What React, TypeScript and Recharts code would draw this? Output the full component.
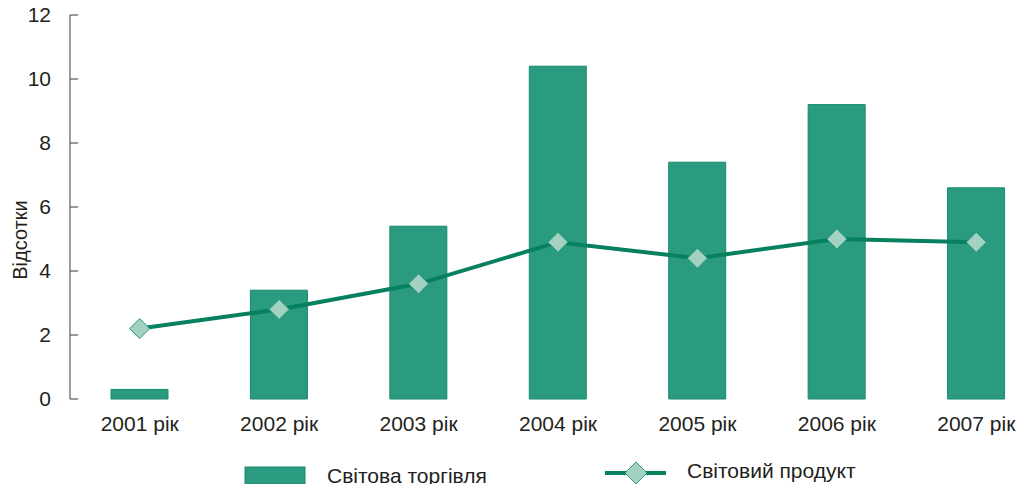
import { Bar, ComposedChart, Legend, Line, XAxis, YAxis } from 'recharts'

const years = ['2001 рік', '2002 рік', '2003 рік', '2004 рік', '2005 рік', '2006 рік', '2007 рік']
const worldTrade = [0.3, 3.4, 5.4, 10.4, 7.4, 9.2, 6.6]
const worldProduct = [2.2, 2.8, 3.6, 4.9, 4.4, 5.0, 4.9]
const yTicks = [0, 2, 4, 6, 8, 10, 12]
const bandEdges = [0, 1, 2, 3, 4, 5, 6, 7]

const data = years.map((year, i) => ({
  year,
  trade: worldTrade[i],
  product: worldProduct[i],
}))

const FONT = '"Liberation Sans", Arial, sans-serif'
const TEXT = '#231f20'
const AXIS = '#3a3a3a'
const BAR_FILL = '#2b9b80'
const BAR_EDGE = '#178a6e'
const LINE = '#06805f'
const DIAMOND_FILL = '#a3d2c2'
const DIAMOND_EDGE = '#2a9a7e'

function diamondPath(cx: number, cy: number, r: number) {
  return `M${cx},${cy - r}L${cx + r},${cy}L${cx},${cy + r}L${cx - r},${cy}Z`
}

function Diamond(props: any) {
  const { cx, cy, index } = props
  if (cx == null || cy == null) return <g key={index} />
  return (
    <path
      key={index}
      d={diamondPath(cx, cy, 10)}
      fill={DIAMOND_FILL}
      stroke={DIAMOND_EDGE}
      strokeWidth={1}
    />
  )
}

function ChartLegend({ payload }: any) {
  const items = payload || []
  const trade = items.find((p: any) => p.dataKey === 'trade')
  const product = items.find((p: any) => p.dataKey === 'product')
  return (
    <svg width={1036} height={30} style={{ display: 'block', fontFamily: FONT }}>
      {trade && (
        <g>
          <rect x={245} y={13} width={60} height={17} fill={BAR_FILL} stroke={BAR_EDGE} />
          <text x={327} y={28.5} fontSize={21} fill={TEXT}>
            {trade.value}
          </text>
        </g>
      )}
      {product && (
        <g>
          <line x1={605} x2={666} y1={19} y2={19} stroke={LINE} strokeWidth={4} />
          <path d={diamondPath(636, 19, 11)} fill={DIAMOND_FILL} stroke={DIAMOND_EDGE} />
          <text x={687} y={24} fontSize={21} fill={TEXT}>
            {product.value}
          </text>
        </g>
      )}
    </svg>
  )
}

function YTitle() {
  return (
    <text
      x={27}
      y={240}
      transform="rotate(-90, 27, 240)"
      textAnchor="middle"
      fontSize={20}
      fill={TEXT}
      fontFamily={FONT}
    >
      Відсотки
    </text>
  )
}

export default function App() {
  return (
    <div
      style={{
        width: 1036,
        height: 484,
        overflow: 'hidden',
        margin: '-8px 0 0 -8px',
        background: '#fff',
        fontFamily: FONT,
      }}
    >
      <ComposedChart
        width={1050}
        height={484}
        data={data}
        margin={{ top: 15, right: 4, bottom: 0, left: 0 }}
      >
        <XAxis
          xAxisId="edge"
          type="number"
          domain={[0, 7]}
          ticks={bandEdges}
          tick={false}
          height={0}
          tickSize={9}
          stroke={AXIS}
          allowDataOverflow
        />
        <XAxis
          xAxisId="cat"
          dataKey="year"
          axisLine={false}
          tickLine={false}
          height={85}
          tickSize={6}
          tickMargin={11}
          interval={0}
          tick={{ fontSize: 21, fill: TEXT, fontFamily: FONT }}
        />
        <YAxis
          width={70}
          domain={[0, 12]}
          ticks={yTicks}
          interval={0}
          tickSize={-8}
          tickMargin={27}
          stroke={AXIS}
          tick={{ fontSize: 21, fill: TEXT, fontFamily: FONT }}
          label={<YTitle />}
        />
        <Legend
          layout="horizontal"
          verticalAlign="middle"
          align="center"
          wrapperStyle={{ top: 454, left: 0, width: 1036, height: 30 }}
          content={<ChartLegend />}
        />
        <Bar
          xAxisId="cat"
          dataKey="trade"
          name="Світова торгівля"
          fill={BAR_FILL}
          stroke={BAR_EDGE}
          strokeWidth={1}
          barSize={57}
          isAnimationActive={false}
        />
        <Line
          xAxisId="cat"
          dataKey="product"
          name="Світовий продукт"
          stroke={LINE}
          strokeWidth={4}
          dot={Diamond}
          activeDot={false}
          isAnimationActive={false}
        />
      </ComposedChart>
    </div>
  )
}
